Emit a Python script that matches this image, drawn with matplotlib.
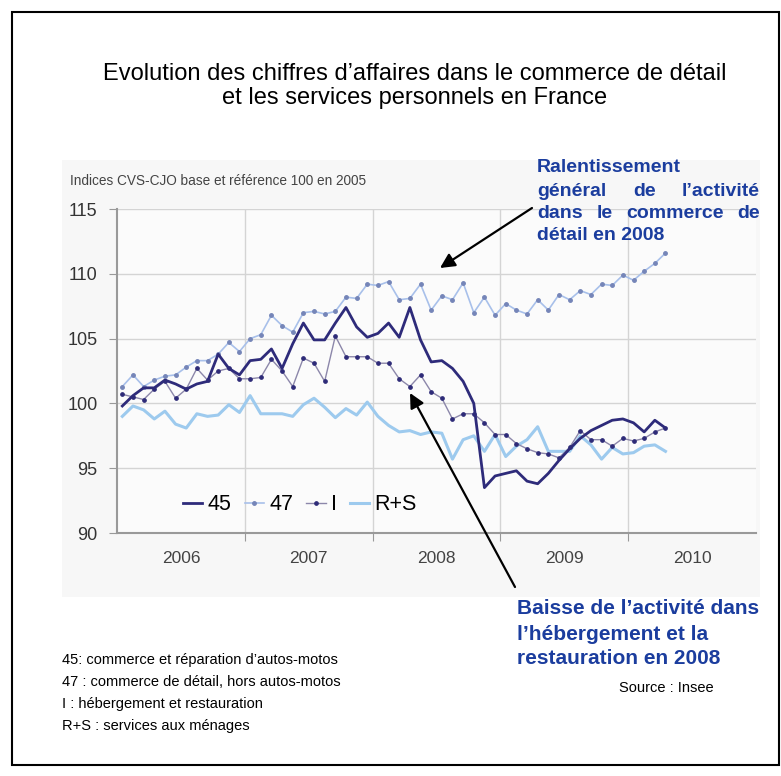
import matplotlib
matplotlib.use("Agg")
import matplotlib.pyplot as plt
from matplotlib.patches import Rectangle, FancyArrowPatch

plt.rcParams["font.family"] = ["Liberation Sans", "DejaVu Sans"]

# monthly indices, Jan 2006 -> Apr 2010 (index 100 = 2005)
s45 = [99.8, 100.6, 101.2, 101.2, 101.8, 101.5, 101.1, 101.5, 101.7, 103.8, 102.7, 102.2,
       103.3, 103.4, 104.2, 102.7, 104.6, 106.2, 104.9, 104.9, 106.2, 107.4, 105.9, 105.1,
       105.4, 106.2, 105.1, 107.4, 104.9, 103.2, 103.3, 102.7, 101.7, 100.0, 93.5, 94.4,
       94.6, 94.8, 94.0, 93.8, 94.6, 95.6, 96.5, 97.3, 97.9, 98.3, 98.7, 98.8,
       98.5, 97.8, 98.7, 98.1]
s47 = [101.3, 102.2, 101.3, 101.8, 102.1, 102.2, 102.8, 103.3, 103.3, 103.8, 104.7, 104.0,
       105.0, 105.3, 106.8, 106.0, 105.5, 107.0, 107.1, 106.9, 107.1, 108.2, 108.1, 109.2,
       109.1, 109.4, 108.0, 108.1, 109.2, 107.2, 108.3, 108.0, 109.3, 107.0, 108.2, 106.8,
       107.7, 107.2, 106.9, 108.0, 107.2, 108.4, 108.0, 108.7, 108.4, 109.2, 109.1, 109.9,
       109.5, 110.2, 110.8, 111.6]
s_i = [100.7, 100.5, 100.3, 101.1, 101.7, 100.4, 101.1, 102.7, 101.8, 102.5, 102.7, 101.9,
       101.9, 102.0, 103.4, 102.5, 101.3, 103.5, 103.1, 101.7, 105.2, 103.6, 103.6, 103.6,
       103.1, 103.1, 101.9, 101.3, 102.2, 100.9, 100.4, 98.8, 99.2, 99.2, 98.5, 97.6,
       97.6, 96.9, 96.5, 96.2, 96.1, 95.8, 96.6, 97.9, 97.2, 97.2, 96.7, 97.3,
       97.1, 97.3, 97.8, 98.1]
s_rs = [99.0, 99.8, 99.5, 98.8, 99.4, 98.4, 98.1, 99.2, 99.0, 99.1, 99.9, 99.3,
        100.6, 99.2, 99.2, 99.2, 99.0, 99.9, 100.4, 99.7, 98.9, 99.6, 99.1, 100.1,
        99.0, 98.3, 97.8, 97.9, 97.6, 97.8, 97.7, 95.7, 97.2, 97.5, 96.3, 97.6,
        95.9, 96.7, 97.2, 98.2, 96.3, 96.3, 96.3, 97.5, 96.8, 95.7, 96.6, 96.1,
        96.2, 96.7, 96.8, 96.3]
years = ["2006", "2007", "2008", "2009", "2010"]
y_ticks = [90, 95, 100, 105, 110, 115]

W, H = 781, 776
BLUE = "#1b3d9e"


def px(x, y):
    # top-left pixel coords -> figure fraction
    return x / W, 1 - y / H


fig = plt.figure(figsize=(W / 100, H / 100), dpi=100)
fig.patch.set_facecolor("white")

# outer frame and grey chart block
fig.add_artist(Rectangle(px(12, 765), (779 - 12) / W, (765 - 12) / H, transform=fig.transFigure,
                         fill=False, edgecolor="black", linewidth=1.5))
fig.add_artist(Rectangle(px(62, 597), (760 - 62) / W, (597 - 160) / H, transform=fig.transFigure,
                         facecolor="#f7f7f7", edgecolor="none", zorder=0))

left, right, top, bottom = 117, 756, 209, 533
ax = fig.add_axes([left / W, 1 - bottom / H, (right - left) / W, (bottom - top) / H])
ax.set_facecolor("#fbfbfb")

x = [k + 0.5 for k in range(len(s45))]
ax.plot(x, s_rs, color="#9dcaee", linewidth=2.2, label="R+S", zorder=2)
ax.plot(x, s47, color="#a8c0ea", linewidth=1.2, marker="o", markersize=2.5,
        markerfacecolor="#7585b8", markeredgecolor="#7585b8", label="47", zorder=3)
ax.plot(x, s_i, color="#8c87aa", linewidth=1.0, marker="o", markersize=2.4,
        markerfacecolor="#2e2b78", markeredgecolor="#2e2b78", label="I", zorder=4)
ax.plot(x, s45, color="#2e2b7a", linewidth=2.0, label="45", zorder=5)

ax.set_xlim(0, 60)
ax.set_ylim(90, 115)
ax.set_yticks(y_ticks)
ax.set_yticklabels([str(v) for v in y_ticks])
ax.set_xticks([12, 24, 36, 48])
ax.set_xticklabels([])
ax.set_xticks([6, 18, 30, 42, 54], minor=True)
ax.set_xticklabels(years, minor=True)
ax.tick_params(axis="x", which="minor", length=0, pad=13, labelsize=12.5, labelcolor="#444444")
ax.tick_params(axis="x", which="major", length=6, color="#999999")
ax.tick_params(axis="y", length=6, color="#999999", labelsize=13, labelcolor="#333333", pad=8)
ax.grid(True, which="major", color="#d4d4d4", linewidth=1.0)
for sp in ["top", "right"]:
    ax.spines[sp].set_visible(False)
for sp in ["left", "bottom"]:
    ax.spines[sp].set_color("#999999")
    ax.spines[sp].set_linewidth(1.5)

handles, labels = ax.get_legend_handles_labels()
order = [3, 1, 2, 0]
ax.legend([handles[i] for i in order], [labels[i] for i in order], ncol=4, loc="center left",
          bbox_to_anchor=((183 - left) / (right - left), (bottom - 505) / (bottom - top)),
          frameon=False, fontsize=15.5, handlelength=0.9, handletextpad=0.25,
          columnspacing=0.6, borderpad=0, borderaxespad=0)

# texts
fig.text(*px(415, 74), "Evolution des chiffres d\u2019affaires dans le commerce de détail",
         ha="center", va="center", fontsize=17)
fig.text(*px(415, 98), "et les services personnels en France", ha="center", va="center",
         fontsize=17)
fig.text(*px(70, 181), "Indices CVS-CJO base et référence 100 en 2005", ha="left", va="center",
         fontsize=9.8, color="#444444")

renderer = fig.canvas.get_renderer()


def justified(words, x0, x1, y, **kw):
    texts = [fig.text(0, 0, w, ha="left", va="center", **kw) for w in words]
    widths = [t.get_window_extent(renderer).width for t in texts]
    gap = (x1 - x0 - sum(widths)) / max(len(words) - 1, 1)
    xx = x0
    for t, w in zip(texts, widths):
        t.set_position(px(xx, y))
        xx += w + gap


bold = dict(fontsize=14, fontweight="bold", color=BLUE)
fig.text(*px(537, 168), "Ralentissement", ha="left", va="center", **bold)
justified(["général", "de", "l\u2019activité"], 537, 760, 191, **bold)
justified(["dans", "le", "commerce", "de"], 537, 760, 213, **bold)
fig.text(*px(537, 236), "détail en 2008", ha="left", va="center", **bold)

bold2 = dict(fontsize=15, fontweight="bold", color=BLUE)
fig.text(*px(517, 609), "Baisse de l\u2019activité dans", ha="left", va="center", **bold2)
fig.text(*px(517, 634), "l\u2019hébergement et la", ha="left", va="center", **bold2)
fig.text(*px(517, 659), "restauration en 2008", ha="left", va="center", **bold2)

notes = ["45: commerce et réparation d\u2019autos-motos",
         "47 : commerce de détail, hors autos-motos",
         "I : hébergement et restauration",
         "R+S : services aux ménages"]
for i, s in enumerate(notes):
    fig.text(*px(62, 660 + 22 * i), s, ha="left", va="center", fontsize=10.5)
fig.text(*px(666, 688), "Source : Insee", ha="center", va="center", fontsize=10.5)

# arrows
for tail, tip in [((532, 208), (440, 268)), ((515, 587), (410, 393))]:
    fig.add_artist(FancyArrowPatch(px(*tail), px(*tip), transform=fig.transFigure,
                                   arrowstyle="-|>", mutation_scale=22, color="black",
                                   linewidth=1.6, shrinkA=0, shrinkB=0, zorder=10))

fig.savefig("out.png", dpi=100)
